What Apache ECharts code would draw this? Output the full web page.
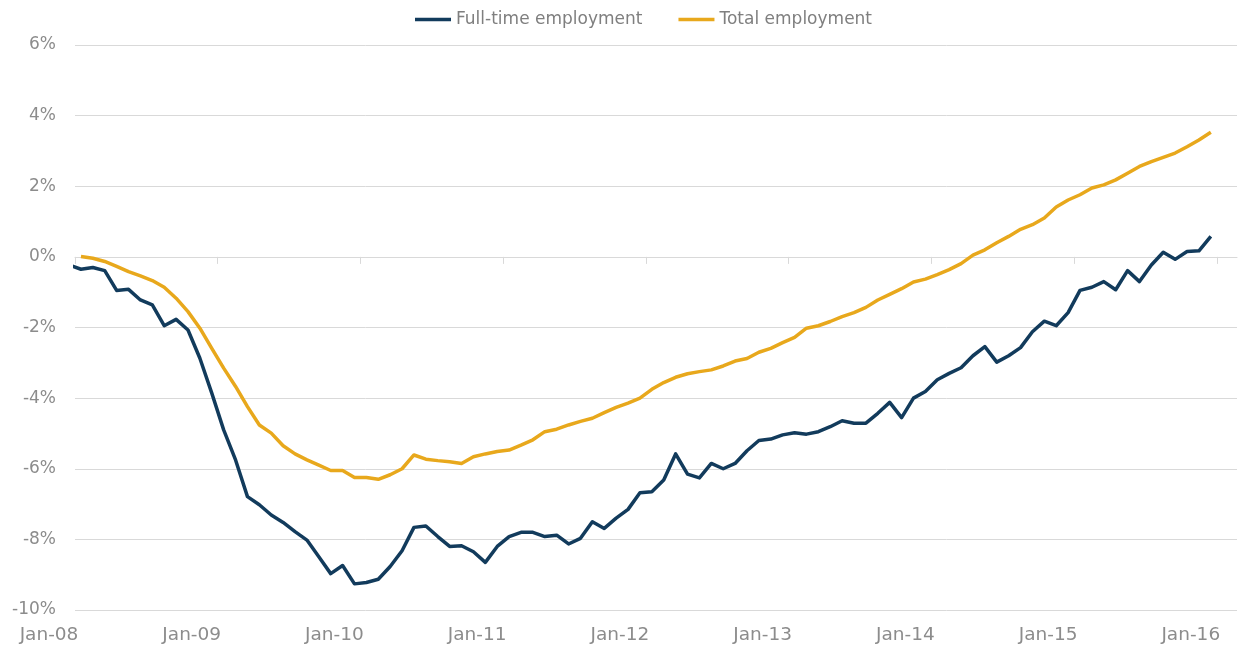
<!DOCTYPE html>
<html>
<head>
<meta charset="utf-8">
<script src="https://cdn.jsdelivr.net/npm/echarts@6/dist/echarts.min.js"></script>
<style>
  html, body { margin: 0; padding: 0; background: #fff; }
  #chart { width: 1241px; height: 650px; }
</style>
</head>
<body>
<div id="chart"></div>
<script>
// year labels on the x axis, one every 12 months starting Jan-08
var yearLabels = ['Jan-08', 'Jan-09', 'Jan-10', 'Jan-11', 'Jan-12', 'Jan-13', 'Jan-14', 'Jan-15', 'Jan-16'];

// monthly values in %, Dec-07 .. Dec-15 (first entry is Dec-07)
var fullTime = [
  -0.23,
  -0.35, -0.30, -0.39, -0.95, -0.92, -1.22, -1.36, -1.95, -1.77, -2.07, -2.87, -3.86,
  -4.90, -5.75, -6.79, -7.02, -7.31, -7.52, -7.78, -8.02, -8.49, -8.97, -8.74, -9.26,
  -9.22, -9.13, -8.77, -8.32, -7.66, -7.62, -7.92, -8.20, -8.18, -8.35, -8.65, -8.20,
  -7.92, -7.80, -7.80, -7.92, -7.88, -8.13, -7.97, -7.50, -7.69, -7.40, -7.15, -6.68,
  -6.65, -6.32, -5.58, -6.15, -6.26, -5.85, -6.00, -5.85, -5.49, -5.20, -5.16, -5.04,
  -4.98, -5.02, -4.95, -4.81, -4.64, -4.71, -4.71, -4.43, -4.12, -4.55, -4.00, -3.81,
  -3.48, -3.30, -3.14, -2.80, -2.54, -2.98, -2.80, -2.57, -2.12, -1.82, -1.95, -1.58,
  -0.95, -0.86, -0.70, -0.93, -0.39, -0.70, -0.23, 0.13, -0.07, 0.15, 0.17, 0.58
];
var total = [
  null,
  0.01, -0.04, -0.13, -0.27, -0.42, -0.54, -0.67, -0.86, -1.17, -1.55, -2.02, -2.59,
  -3.15, -3.67, -4.24, -4.76, -4.99, -5.35, -5.58, -5.75, -5.90, -6.05, -6.05, -6.25,
  -6.25, -6.30, -6.17, -6.00, -5.61, -5.73, -5.77, -5.80, -5.85, -5.66, -5.58, -5.51,
  -5.47, -5.33, -5.18, -4.95, -4.88, -4.76, -4.66, -4.57, -4.41, -4.26, -4.14, -4.00,
  -3.75, -3.56, -3.41, -3.31, -3.25, -3.20, -3.09, -2.95, -2.88, -2.70, -2.59, -2.43,
  -2.28, -2.02, -1.95, -1.83, -1.69, -1.58, -1.43, -1.22, -1.06, -0.90, -0.71, -0.63,
  -0.50, -0.36, -0.19, 0.05, 0.20, 0.40, 0.58, 0.78, 0.91, 1.10, 1.41, 1.61,
  1.76, 1.95, 2.04, 2.18, 2.37, 2.56, 2.70, 2.82, 2.94, 3.12, 3.31, 3.53
];

var toPoints = function (arr) {
  // mid-month positions, months counted from Jan-08
  var out = [];
  for (var i = 0; i < arr.length; i++) {
    out.push([i - 0.5, arr[i]]);
  }
  return out;
};

var yearTicks = [];
for (var i = 0; i < yearLabels.length; i++) yearTicks.push(i * 12);

var font = 'DejaVu Sans';
var chart = echarts.init(document.getElementById('chart'), null, { renderer: 'canvas' });

chart.setOption({
  animation: false,
  backgroundColor: '#fff',
  textStyle: { fontFamily: font },
  legend: {
    top: 6,
    left: 410,
    icon: 'rect',
    itemWidth: 36,
    itemHeight: 3.5,
    itemGap: 36,
    textStyle: { color: '#7f7f7f', fontSize: 17, fontFamily: font },
    data: ['Full-time employment', 'Total employment']
  },
  grid: { left: 75, right: 4, top: 45, bottom: 40 },
  xAxis: [{
    type: 'value',
    min: 0,
    max: 97.7,
    axisLine: { show: true, onZero: true, lineStyle: { color: '#d9d9d9', width: 1 } },
    axisTick: { show: true, customValues: yearTicks, length: 7, lineStyle: { color: '#d9d9d9' } },
    axisLabel: { show: false },
    splitLine: { show: false }
  }, {
    type: 'value',
    position: 'bottom',
    min: 0,
    max: 97.7,
    axisLine: { show: false, onZero: false },
    axisTick: { show: false },
    splitLine: { show: false },
    axisLabel: {
      customValues: yearTicks,
      color: '#8c8c8c',
      fontSize: 18.5,
      fontFamily: font,
      margin: 16,
      align: 'center',
      padding: [0, 52, 0, 0],
      formatter: function (v) { return yearLabels[Math.round(v / 12)] || ''; }
    }
  }],
  yAxis: {
    type: 'value',
    min: -10,
    max: 6,
    interval: 2,
    axisLine: { show: false },
    axisTick: { show: false },
    axisLabel: {
      color: '#8c8c8c',
      fontSize: 17,
      fontFamily: font,
      margin: 19,
      padding: [6, 0, 0, 0],
      formatter: function (v) { return v + '%'; }
    },
    splitLine: { lineStyle: { color: '#d9d9d9', width: 1 } }
  },
  series: [{
    name: 'Full-time employment',
    type: 'line',
    xAxisIndex: 0,
    data: toPoints(fullTime),
    showSymbol: false,
    symbol: 'none',
    clip: true,
    lineStyle: { color: '#123b5c', width: 3.5, join: 'round' },
    itemStyle: { color: '#123b5c' }
  }, {
    name: 'Total employment',
    type: 'line',
    xAxisIndex: 0,
    data: toPoints(total),
    showSymbol: false,
    symbol: 'none',
    clip: true,
    lineStyle: { color: '#e8a81c', width: 3.5, join: 'round' },
    itemStyle: { color: '#e8a81c' }
  }]
});
</script>
</body>
</html>
